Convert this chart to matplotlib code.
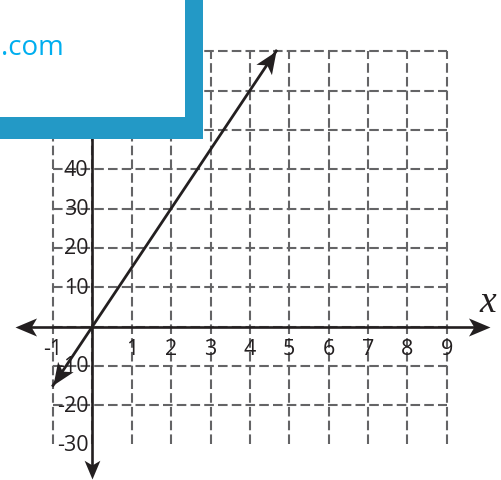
import numpy as np
import matplotlib.pyplot as plt
from matplotlib.path import Path
from matplotlib.markers import MarkerStyle
from matplotlib.transforms import Affine2D
from matplotlib.patches import Rectangle

# grid and ticks
grid_x = [-1, 0, 1, 2, 3, 4, 5, 6, 7, 8, 9]
grid_y = [-30, -20, -10, 0, 10, 20, 30, 40, 50, 60, 70]
x_ticks = [-1, 1, 2, 3, 4, 5, 6, 7, 8, 9]
y_ticks = [-30, -20, -10, 10, 20, 30, 40]

# the line y = 15x
slope = 15
line_x = [-1, 4.67]
line_y = [slope * v for v in line_x]

W, H = 501, 481
x0_px, y0_px = 92.4, 327.5   # pixel position of the origin
sx, sy = 39.37, 3.933        # pixels per unit

fig = plt.figure(figsize=(W / 100, H / 100), dpi=100)
ax = fig.add_axes([0, 0, 1, 1])
ax.set_xlim(-x0_px / sx, (W - x0_px) / sx)
ax.set_ylim(-(H - y0_px) / sy, y0_px / sy)
ax.axis('off')

grid_col = '#646466'
ink = '#231f20'
dash = (0, (4.6, 2.0))
ax.vlines(grid_x, grid_y[0], grid_y[-1], colors=grid_col, lw=1.5, linestyles=[dash], zorder=1)
ax.hlines(grid_y[1:], grid_x[0], grid_x[-1], colors=grid_col, lw=1.5, linestyles=[dash], zorder=1)

# stealth style arrow head, tip at origin
head = Path([(0, 0), (-1, 0.42), (-0.75, 0), (-1, -0.42), (0, 0)],
            [Path.MOVETO, Path.LINETO, Path.LINETO, Path.LINETO, Path.CLOSEPOLY])


def arrow_head(x, y, ang, size=28):
    m = MarkerStyle(head, transform=Affine2D().rotate_deg(ang))
    ax.plot([x], [y], marker=m, markersize=size, color=ink, mec=ink, mew=0, zorder=5)


# axes
xl, xr = (15 - x0_px) / sx, (490 - x0_px) / sx
yb, yt = -(480 - y0_px) / sy, y0_px / sy
ax.plot([xl + 0.3, xr - 0.3], [0, 0], color=ink, lw=1.9, zorder=3)
ax.plot([0, 0], [yb + 3, yt], color=ink, lw=1.9, zorder=3)
arrow_head(xl, 0, 180, 31)
arrow_head(xr, 0, 0, 31)
arrow_head(0, yb, -90, 27)

# data line
ang = np.degrees(np.arctan2(slope * sy, sx))
ax.plot(line_x, line_y, color=ink, lw=2.0, zorder=4)
arrow_head(line_x[1], line_y[1], ang, 32)
arrow_head(line_x[0], line_y[0], ang + 180, 32)

lab_font = dict(family='Open Sans', fontsize=15.5, color=ink, zorder=4)
for t in x_ticks:
    ax.text(t, -5.6, '%d' % t, ha='center', va='center', **lab_font)
for t in y_ticks:
    ax.text(-4 / sx, t, '%d' % t, ha='right', va='center', **lab_font)

ax.text((488 - x0_px) / sx, (y0_px - 303) / sy, 'x', family='Liberation Serif',
        style='italic', fontsize=27, ha='center', va='center', color=ink)

# blue framed box in the top left corner
blue = '#2399c6'
fig.patches.append(Rectangle((0, 1 - 140 / H), 203 / W, 140 / H, transform=fig.transFigure,
                             facecolor='white', edgecolor='none', zorder=10))
fig.patches.append(Rectangle((185 / W, 1 - 140 / H), 18 / W, 140 / H, transform=fig.transFigure,
                             facecolor=blue, edgecolor='none', zorder=11))
fig.patches.append(Rectangle((0, 1 - 140 / H), 203 / W, 22 / H, transform=fig.transFigure,
                             facecolor=blue, edgecolor='none', zorder=11))
fig.text(1 / W, 1 - 48 / H, '.com', family='Open Sans', fontsize=20, color='#00aeef',
         ha='left', va='center', zorder=12)

fig.savefig('out.png', dpi=100)
